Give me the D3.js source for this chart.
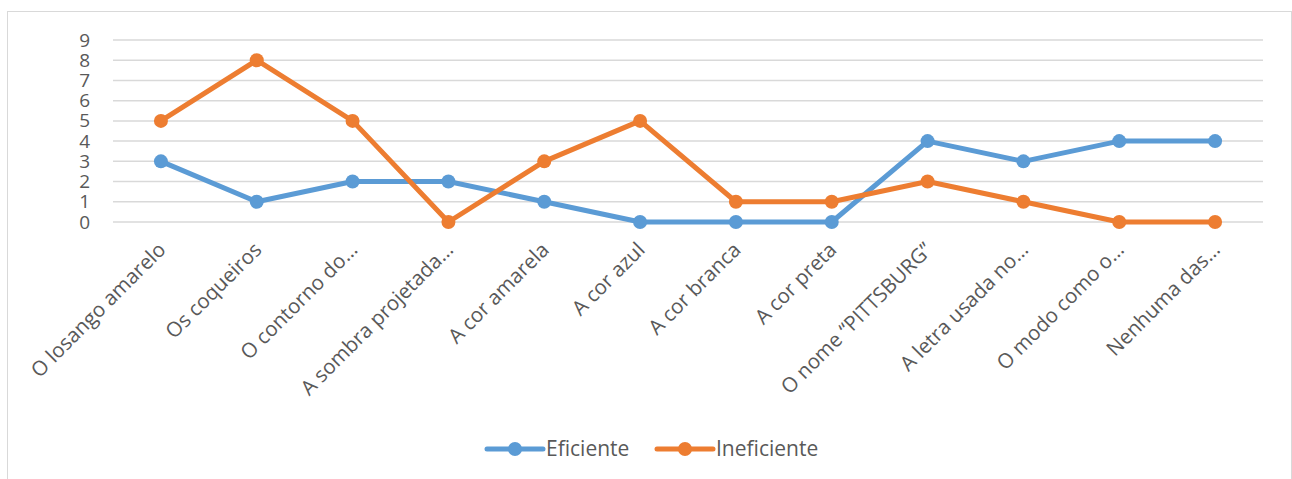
<!DOCTYPE html>
<html>
<head>
<meta charset="utf-8">
<script src="https://cdn.jsdelivr.net/npm/d3@7"></script>
<style>
  body { margin: 0; background: #fff; }
  text { font-family: "Open Sans", sans-serif; fill: #595959; }
</style>
</head>
<body>
<div id="chart"></div>
<script>
// categories and series
var categories = ["O losango amarelo", "Os coqueiros", "O contorno do\u2026", "A sombra projetada\u2026",
  "A cor amarela", "A cor azul", "A cor branca", "A cor preta", "O nome \u201cPITTSBURG\u201d",
  "A letra usada no\u2026", "O modo como o\u2026", "Nenhuma das\u2026"];
var eficiente = [3, 1, 2, 2, 1, 0, 0, 0, 4, 3, 4, 4];
var ineficiente = [5, 8, 5, 0, 3, 5, 1, 1, 2, 1, 0, 0];
var yTicks = [0, 1, 2, 3, 4, 5, 6, 7, 8, 9];

var series = [
  { name: "Eficiente", values: eficiente, color: "#5B9BD5" },
  { name: "Ineficiente", values: ineficiente, color: "#ED7D31" }
];

var svg = d3.select("#chart")
  .append("svg")
  .attr("width", 1292).attr("height", 479);

// chart border
svg.append("rect")
  .attr("x", 7.5).attr("y", 11.5)
  .attr("width", 1284).attr("height", 480)
  .attr("fill", "#fff")
  .attr("stroke", "#D9D9D9");

var x = d3.scaleBand().domain(categories).range([113, 1263]);
var y = d3.scaleLinear().domain([0, 9]).range([222, 40]);

// gridlines
svg.append("g")
  .selectAll("line")
  .data(yTicks)
  .join("line")
  .attr("x1", 113).attr("x2", 1263)
  .attr("y1", function(d) { return y(d); })
  .attr("y2", function(d) { return y(d); })
  .attr("stroke", "#D9D9D9")
  .attr("stroke-width", 1.5);

// y axis labels
var yAxis = svg.append("g")
  .attr("transform", "translate(90,0)")
  .call(d3.axisLeft(y).tickValues(yTicks).tickSize(0).tickPadding(0));
yAxis.select(".domain").remove();
yAxis.selectAll("text")
  .style("font-family", "Open Sans, sans-serif")
  .style("font-size", "19px")
  .attr("fill", "#595959");

// x axis labels
var xAxis = svg.append("g")
  .attr("transform", "translate(0,222)")
  .call(d3.axisBottom(x).tickSize(0));
xAxis.select(".domain").remove();
xAxis.selectAll("text")
  .style("font-family", "Open Sans, sans-serif")
  .style("font-size", "20.5px")
  .attr("fill", "#595959")
  .attr("text-anchor", "end")
  .attr("dy", "0.35em")
  .attr("transform", "translate(1,24) rotate(-45)")
  .attr("y", 0).attr("x", 0);

var line = d3.line()
  .x(function(d, i) { return x(categories[i]) + x.bandwidth() / 2; })
  .y(function(d) { return y(d); });

series.forEach(function(s) {
  svg.append("path")
    .datum(s.values)
    .attr("fill", "none")
    .attr("stroke", s.color)
    .attr("stroke-width", 5)
    .attr("stroke-linejoin", "round")
    .attr("d", line);

  svg.append("g")
    .selectAll("circle")
    .data(s.values)
    .join("circle")
    .attr("cx", function(d, i) { return x(categories[i]) + x.bandwidth() / 2; })
    .attr("cy", function(d) { return y(d); })
    .attr("r", 7)
    .attr("fill", s.color);
});

// legend
var legendX = [487, 657];
var legend = svg.append("g")
  .selectAll("g")
  .data(series)
  .join("g")
  .attr("transform", function(d, i) { return "translate(" + legendX[i] + ",449)"; });

legend.append("line")
  .attr("x1", 0).attr("x2", 56)
  .attr("stroke", function(d) { return d.color; })
  .attr("stroke-width", 5)
  .attr("stroke-linecap", "round");
legend.append("circle")
  .attr("cx", 28).attr("r", 7)
  .attr("fill", function(d) { return d.color; });
legend.append("text")
  .attr("x", 59).attr("dy", "0.35em")
  .style("font-size", "21px")
  .text(function(d) { return d.name; });
</script>
</body>
</html>
